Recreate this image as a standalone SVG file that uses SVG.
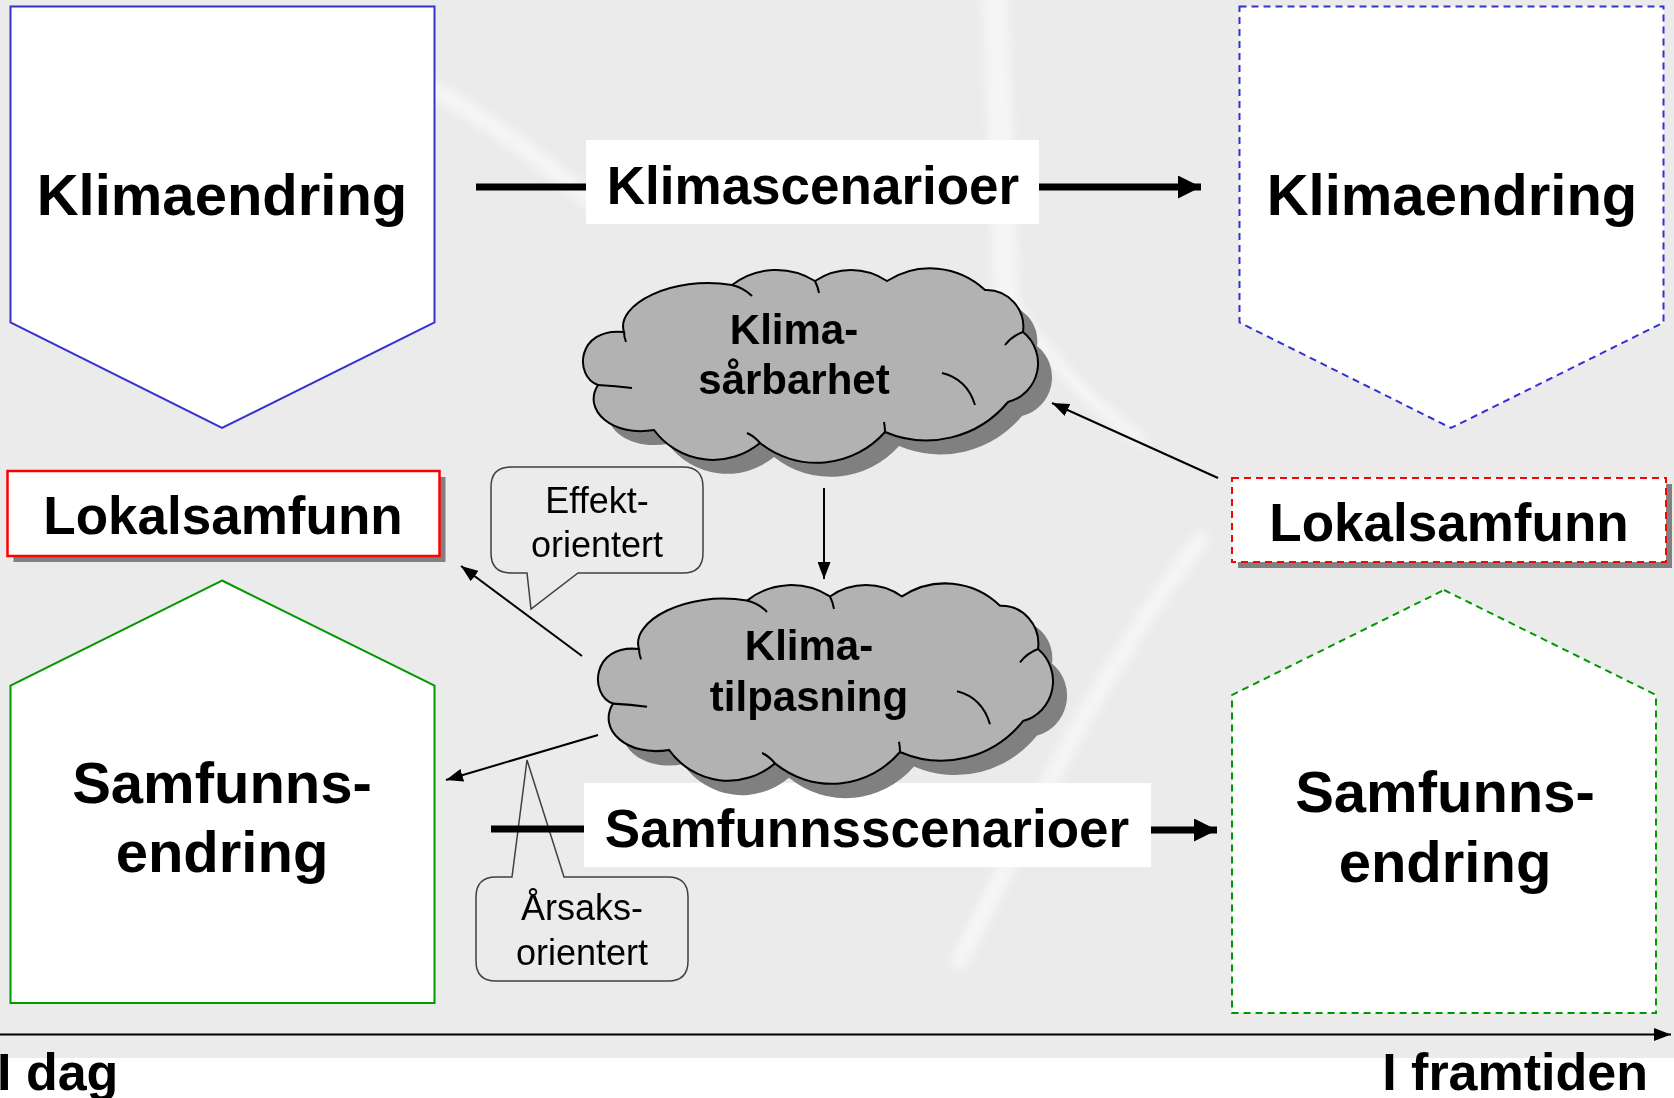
<svg xmlns="http://www.w3.org/2000/svg" width="1674" height="1098" viewBox="0 0 1674 1098">
<style>
text{font-family:"Liberation Sans",Arial,sans-serif;fill:#000}
.big{font-size:58px;font-weight:bold;text-anchor:middle}
.mid{font-size:53px;font-weight:bold;text-anchor:middle}
.cl{font-size:42px;font-weight:bold;text-anchor:middle}
.call{font-size:36px;text-anchor:middle}
.time{font-size:52px;font-weight:bold}
.road{fill:none;stroke:#fbfbfb;stroke-linecap:round;opacity:.6}
.cloud-body{fill:#b2b2b2;stroke:#000;stroke-width:2}
.cloud-shadow{fill:#808080}
.ticks{fill:none;stroke:#000;stroke-width:2}
.thin{stroke:#000;stroke-width:2;fill:none}
.thick{stroke:#000;stroke-width:7;fill:none}
.callout{fill:none;stroke:#404040;stroke-width:1.5}
.shadow{fill:#808080}
</style>
<defs>
<filter id="soft" x="-10%" y="-10%" width="120%" height="120%">
<feGaussianBlur stdDeviation="4"/>
</filter>
<marker id="ah" markerUnits="userSpaceOnUse" markerWidth="17" markerHeight="13" refX="17" refY="6.5" orient="auto">
<path d="M0,0 L17,6.5 L0,13 Z" fill="#000"/>
</marker>
<marker id="ahBig" markerUnits="userSpaceOnUse" markerWidth="23" markerHeight="23" refX="23" refY="11.5" orient="auto">
<path d="M0,0 L23,11.5 L0,23 Z" fill="#000"/>
</marker>
<path id="cloudPath" d="M42,67 C33,40 90,10 150,20 A73,73 0 0 1 233,16 A64,64 0 0 1 305,16 A80,80 0 0 1 403,25 A37,37 0 0 1 441,67 A40,40 0 0 1 426,137 A106,106 0 0 1 303,167 A91,91 0 0 1 178,178 A73.5,73.5 0 0 1 72,165 C30,172 0,145 16,120 C-8,112 -6,62 42,67 Z"/>
<g id="cloud">
<use href="#cloudPath" class="cloud-shadow" transform="translate(14,14)"/>
<use href="#cloudPath" class="cloud-body"/>
<path class="ticks" d="M42,67 Q42,72 44,77 M150,20 Q162,23 170,31 M233,16 Q236,22 237,28 M441,67 Q430,71 423,80 M360,108 Q385,114 393,140 M178,178 Q172,171 165,168 M303,167 Q303,162 302,157 M16,120 Q34,121 50,123"/>
</g>
</defs>

<g id="background">
<rect x="0" y="0" width="1674" height="1098" fill="#ffffff"/>
<rect x="0" y="0" width="1674" height="1058" fill="#ebebeb"/>
<g filter="url(#soft)">
<path class="road" stroke-width="18" d="M430,88 Q500,125 590,200"/>
<path class="road" stroke-width="26" d="M995,0 Q1002,150 1006,300"/>
<path class="road" stroke-width="18" d="M1200,540 Q1110,660 1040,800 Q1000,880 960,960"/>
<path class="road" stroke-width="14" d="M1010,300 Q1060,380 1140,440"/>
</g>
</g>

<g id="klimaendring-idag">
<polygon points="10.5,6.5 434.5,6.5 434.5,322.5 222,428 10.5,322.5" fill="#fff" stroke="#3333cc" stroke-width="2"/>
<text class="big" x="222" y="215">Klimaendring</text>
</g>

<g id="klimaendring-framtid">
<polygon points="1239.5,6.5 1663.5,6.5 1663.5,322.5 1451,428 1239.5,322.5" fill="#fff" stroke="#3333cc" stroke-width="2" stroke-dasharray="7,5"/>
<text class="big" x="1452" y="215">Klimaendring</text>
</g>

<g id="lokalsamfunn-idag">
<rect class="shadow" x="13.5" y="477" width="432" height="85"/>
<rect x="7.5" y="471" width="432" height="85" fill="#fff" stroke="#ff0000" stroke-width="2.5"/>
<text class="mid" x="223" y="534">Lokalsamfunn</text>
</g>

<g id="lokalsamfunn-framtid">
<rect class="shadow" x="1238" y="484" width="434" height="84"/>
<rect x="1232" y="478" width="434" height="84" fill="#fff" stroke="#ff0000" stroke-width="2" stroke-dasharray="7,5"/>
<text class="mid" x="1449" y="541">Lokalsamfunn</text>
</g>

<g id="samfunnsendring-idag">
<polygon points="222,580.5 434.5,685.5 434.5,1003 10.5,1003 10.5,685.5" fill="#fff" stroke="#009900" stroke-width="2"/>
<text class="big" x="222" y="803">Samfunns-</text>
<text class="big" x="222" y="872">endring</text>
</g>

<g id="samfunnsendring-framtid">
<polygon points="1444,590 1656,695 1656,1013 1232,1013 1232,695" fill="#fff" stroke="#009900" stroke-width="2" stroke-dasharray="7,5"/>
<text class="big" x="1445" y="812">Samfunns-</text>
<text class="big" x="1445" y="882">endring</text>
</g>

<g id="klimascenarioer">
<rect x="586" y="140" width="453" height="84" fill="#fff"/>
<text class="mid" x="813" y="204">Klimascenarioer</text>
</g>

<g id="samfunnsscenarioer">
<rect x="584" y="783" width="567" height="84" fill="#fff"/>
<text class="mid" x="867" y="847">Samfunnsscenarioer</text>
</g>

<g id="effekt-orientert">
<path class="callout" d="M511,467 H683 Q703,467 703,487 V553 Q703,573 683,573 H578 L531,609 L527,573 H511 Q491,573 491,553 V487 Q491,467 511,467 Z"/>
<text class="call" x="597" y="513">Effekt-</text>
<text class="call" x="597" y="557">orientert</text>
</g>

<g id="arsaks-orientert">
<path class="callout" d="M496,877 H512 L527,760 L564,877 H668 Q688,877 688,897 V961 Q688,981 668,981 H496 Q476,981 476,961 V897 Q476,877 496,877 Z"/>
<text class="call" x="582" y="920">Årsaks-</text>
<text class="call" x="582" y="965">orientert</text>
</g>

<g id="connectors">
<line class="thick" x1="476" y1="187" x2="586" y2="187"/>
<line class="thick" x1="1039" y1="187" x2="1201" y2="187" marker-end="url(#ahBig)"/>
<line class="thick" x1="491" y1="829" x2="584" y2="829"/>
<line class="thick" x1="1151" y1="830" x2="1217" y2="830" marker-end="url(#ahBig)"/>
<line class="thin" x1="824" y1="488" x2="824" y2="579" marker-end="url(#ah)"/>
<line class="thin" x1="1218" y1="478" x2="1052" y2="403" marker-end="url(#ah)"/>
<line class="thin" x1="582" y1="656" x2="461" y2="566" marker-end="url(#ah)"/>
<line class="thin" x1="598" y1="735" x2="446" y2="780" marker-end="url(#ah)"/>
<line class="thin" x1="0" y1="1034.5" x2="1671" y2="1034.5" marker-end="url(#ah)"/>
</g>

<g id="klimasarbarhet">
<use href="#cloud" transform="translate(582,265)"/>
<text class="cl" x="794" y="344">Klima-</text>
<text class="cl" x="794" y="394">sårbarhet</text>
</g>

<g id="klimatilpasning">
<use href="#cloud" transform="translate(597,580) scale(1,1.03)"/>
<text class="cl" x="809" y="660">Klima-</text>
<text class="cl" x="809" y="711">tilpasning</text>
</g>

<g id="timeline-labels">
<text class="time" x="-3" y="1090">I dag</text>
<text class="time" x="1648" y="1090" text-anchor="end">I framtiden</text>
</g>
</svg>
